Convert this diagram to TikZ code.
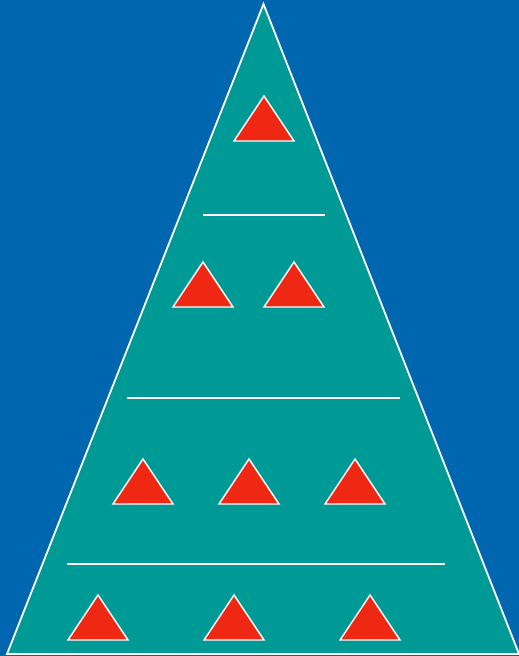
\documentclass[tikz,border=0pt]{standalone}
\usepackage{tikz}

\definecolor{bgblue}{HTML}{0066B0}
\definecolor{tealfill}{HTML}{009A96}
\definecolor{markred}{HTML}{EE2812}

\begin{document}
\begin{tikzpicture}[
    x=1pt, y=-1pt,
    outline/.style={draw=white, line width=1.8pt, line join=miter},
    divider/.style={draw=white, line width=1.6pt},
    marker/.style={fill=markred, draw=white, line width=1.4pt}
]

% background
\fill[bgblue] (0,0) rectangle (519,656);
\useasboundingbox (0,0) rectangle (519,656);

% pyramid
\path[fill=tealfill, outline] (263.5,4) -- (519,654) -- (7,654) -- cycle;

% dividers
\draw[divider] (203,215) -- (325,215);
\draw[divider] (127,398) -- (400,398);
\draw[divider] (67,564) -- (445,564);

% markers (apex x, apex y)
\foreach \mx/\my in {264/96, 203/262, 294/262, 143/459, 249/459, 355/459, 98/595, 234/595, 370/595}
    \path[marker] (\mx,\my) -- (\mx+30,\my+45) -- (\mx-30,\my+45) -- cycle;

\end{tikzpicture}
\end{document}
